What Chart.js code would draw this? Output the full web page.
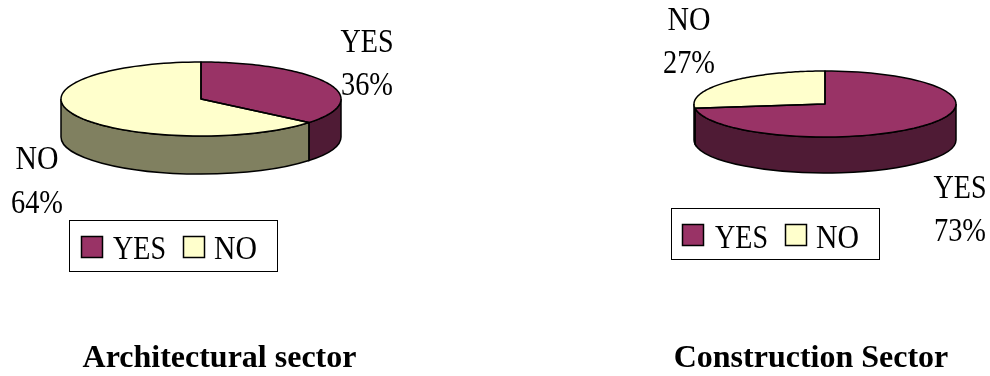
<!DOCTYPE html>
<html>
<head>
<meta charset="utf-8">
<style>
html,body{margin:0;padding:0;background:#fff;}
#wrap{position:relative;width:990px;height:376px;overflow:hidden;background:#fff;}
canvas{position:absolute;left:0;top:0;}
</style>
<script src="https://cdn.jsdelivr.net/npm/chart.js@4"></script>
</head>
<body>
<div id="wrap"><canvas id="a" width="990" height="376"></canvas><canvas id="b" width="990" height="376"></canvas></div>
<script>
const categoriesA = ['YES', 'NO'];
const valuesA = [36, 64];
const categoriesB = ['YES', 'NO'];
const valuesB = [73, 27];
const titleA = 'Architectural sector';
const titleB = 'Construction Sector';
const topColors = ['#993366', '#ffffcc'];
const wallColors = ['#4f1b35', '#808060'];

const FONT = '"Liberation Serif", "Times New Roman", serif';
const LINE = 1.5;

function squeezedText(ctx, text, x, y, sx) {
  ctx.save();
  ctx.translate(x, y);
  ctx.scale(sx, 1);
  ctx.fillText(text, 0, 0);
  ctx.restore();
}
const labelSqueeze = t => t === 'NO' ? 0.9 : 0.85;

const pie3d = {
  id: 'pie3d',
  beforeDatasetsDraw(chart, args, o) {
    const arcs = chart.getDatasetMeta(0).data;
    const ctx = chart.ctx;
    const k = o.ry / arcs[0].outerRadius;
    ctx.save();
    const cx = arcs[0].x, cy = o.cy, rx = arcs[0].outerRadius, ry = o.ry, d = o.depth;
    arcs.forEach((arc, i) => {
      const s = arc.startAngle, e = arc.endAngle;
      [-2 * Math.PI, 0, 2 * Math.PI].forEach(shift => {
        const a = Math.max(s + shift, 0), b = Math.min(e + shift, Math.PI);
        if (b <= a) return;
        ctx.beginPath();
        ctx.ellipse(cx, cy, rx, ry, 0, a, b, false);
        ctx.ellipse(cx, cy + d, rx, ry, 0, b, a, true);
        ctx.closePath();
        ctx.fillStyle = wallColors[i];
        ctx.fill();
        ctx.strokeStyle = '#000';
        ctx.lineWidth = LINE;
        ctx.stroke();
      });
    });
    ctx.restore();
    ctx.save();
    ctx.translate(0, cy);
    ctx.scale(1, k);
    ctx.translate(0, -arcs[0].y);
  },
  afterDatasetsDraw(chart, args, o) {
    const ctx = chart.ctx;
    const arcs = chart.getDatasetMeta(0).data;
    const paths = arcs.map(arc => {
      const p = new Path2D();
      const m = ctx.getTransform();
      const n = 90;
      const pt = (x, y) => { const q = m.transformPoint(new DOMPoint(x, y)); return [q.x, q.y]; };
      p.moveTo(...pt(arc.x, arc.y));
      for (let j = 0; j <= n; j++) {
        const t = arc.startAngle + (arc.endAngle - arc.startAngle) * j / n;
        p.lineTo(...pt(arc.x + arc.outerRadius * Math.cos(t), arc.y + arc.outerRadius * Math.sin(t)));
      }
      p.closePath();
      return p;
    });
    ctx.restore();
    ctx.save();
    ctx.strokeStyle = '#000';
    ctx.lineWidth = LINE;
    ctx.lineJoin = 'round';
    paths.forEach(p => ctx.stroke(p));
    ctx.restore();
  },
  afterDraw(chart, args, o) {
    const ctx = chart.ctx;
    const labels = chart.data.labels;
    const vals = chart.data.datasets[0].data;
    const total = vals.reduce((a, b) => a + b, 0);
    const colors = chart.data.datasets[0].backgroundColor;
    ctx.save();
    ctx.fillStyle = '#000';
    ctx.textBaseline = 'alphabetic';
    ctx.textAlign = 'center';
    ctx.font = '33px ' + FONT;
    labels.forEach((lab, i) => {
      const p = o.labelPos[i];
      squeezedText(ctx, lab, p.x, p.y1, labelSqueeze(lab));
      squeezedText(ctx, Math.round(vals[i] / total * 100) + '%', p.x, p.y2, 0.86);
    });
    const L = o.legend;
    ctx.strokeStyle = '#000';
    ctx.lineWidth = 1;
    ctx.strokeRect(L.x + .5, L.y + .5, L.w, L.h);
    ctx.textAlign = 'left';
    labels.forEach((lab, i) => {
      const e = L.items[i];
      ctx.fillStyle = colors[i];
      ctx.fillRect(e.sx + .5, e.sy + .5, 21, 21);
      ctx.strokeStyle = '#000';
      ctx.lineWidth = 1.5;
      ctx.strokeRect(e.sx + .5, e.sy + .5, 21, 21);
      ctx.fillStyle = '#000';
      squeezedText(ctx, lab, e.tx, e.ty, labelSqueeze(lab));
    });
    ctx.font = 'bold 32px ' + FONT;
    ctx.textAlign = 'center';
    ctx.fillText(o.title, o.titleX, o.titleY);
    ctx.restore();
  }
};

function make(id, labels, values, radius, padding, opts) {
  return new Chart(document.getElementById(id), {
    type: 'pie',
    data: { labels, datasets: [{ data: values, backgroundColor: topColors, borderWidth: 0 }] },
    options: {
      responsive: false,
      animation: false,
      radius,
      layout: { padding },
      plugins: { legend: { display: false }, title: { display: false }, tooltip: { enabled: false }, pie3d: opts }
    },
    plugins: [pie3d]
  });
}

make('a', categoriesA, valuesA, 140, { left: 0, right: 588 }, {
  cy: 99, ry: 37, depth: 38,
  title: titleA, titleX: 219.5, titleY: 367,
  labelPos: [{ x: 367, y1: 52, y2: 95 }, { x: 37, y1: 169, y2: 213 }],
  legend: { x: 69, y: 220, w: 208, h: 51, items: [{ sx: 81, sy: 236, tx: 113, ty: 259 }, { sx: 183, sy: 236, tx: 214, ty: 259 }] }
});
make('b', categoriesB, valuesB, 131, { left: 660, right: 0 }, {
  cy: 104, ry: 33, depth: 36,
  title: titleB, titleX: 811, titleY: 367,
  labelPos: [{ x: 960, y1: 198, y2: 241 }, { x: 689, y1: 30, y2: 73 }],
  legend: { x: 671, y: 208, w: 208, h: 51, items: [{ sx: 682, sy: 224, tx: 715, ty: 248 }, { sx: 785, sy: 224, tx: 816, ty: 248 }] }
});
</script>
</body>
</html>
